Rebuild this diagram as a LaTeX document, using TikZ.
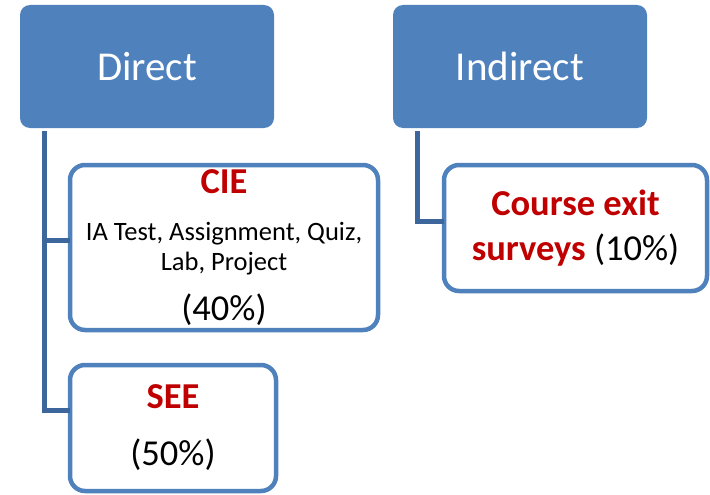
\documentclass[tikz,border=0pt]{standalone}
\usepackage{fontspec}
\setmainfont{Carlito}
\usetikzlibrary{positioning}
\definecolor{hdblue}{HTML}{4F81BD}
\definecolor{lnblue}{HTML}{3D679C}
\definecolor{hlred}{HTML}{C00000}
\newcommand{\hl}[1]{{\bfseries\color{hlred}#1}}
\newcommand{\subtxt}{\fontsize{26.5}{0}\selectfont}
\newcommand{\tightlines}{\lineskiplimit=-100pt\relax}
\tikzset{
    head/.style={
        rectangle, rounded corners=10pt,
        fill=hdblue, text=white,
        minimum width=254pt, minimum height=123pt,
        inner sep=0pt, outer sep=0pt,
        font=\fontsize{41}{49}\selectfont
    },
    item/.style={
        rectangle, rounded corners=15pt,
        draw=hdblue, line width=4.5pt, fill=white,
        align=center, inner sep=0pt, outer sep=0pt,
        font=\fontsize{36.5}{0}\selectfont\tightlines
    },
    conn/.style={
        draw=lnblue, line width=5pt
    },
}
\begin{document}
\begin{tikzpicture}[x=1pt, y=1pt]
    \useasboundingbox (0,0) rectangle (710,-495);

    \node[head] (direct) at (147,-66.5) {Direct};
    \node[head, right=119pt of direct] (indirect) {Indirect};

    \node[item, minimum width=308pt, minimum height=165pt,
        below right=37pt and 50pt of direct.south west] (cie)
        {\hl{CIE}\\[47pt] {\subtxt IA Test, Assignment, Quiz,}\\[30pt]
         {\subtxt Lab, Project}\\[50pt] (40\%)};
    \node[item, minimum width=206pt, minimum height=126pt,
        below right=35pt and 0pt of cie.south west] (see)
        {\hl{SEE}\\[57pt] (50\%)};
    \node[item, minimum width=263pt, minimum height=126pt,
        below right=37pt and 51pt of indirect.south west] (exit)
        {\hl{Course exit}\\[45pt] \hl{surveys} (10\%)};

    \draw[conn] ([xshift=24pt, yshift=-3pt]direct.south west) |- ([yshift=7pt]cie.west);
    \draw[conn] ([xshift=24pt, yshift=-3pt]direct.south west) |- ([yshift=18pt]see.west);
    \draw[conn] ([xshift=24pt, yshift=-3pt]indirect.south west) |- ([yshift=7pt]exit.west);
\end{tikzpicture}
\end{document}
